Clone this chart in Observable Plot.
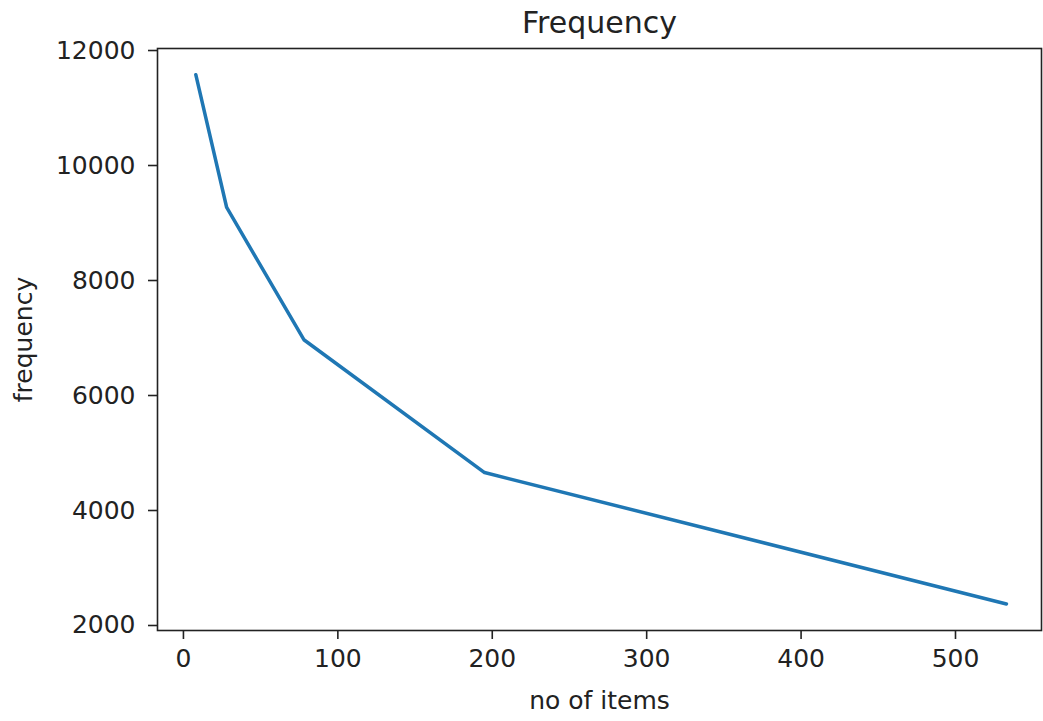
<!DOCTYPE html>
<html>
<head>
<meta charset="utf-8">
<script src="https://cdn.jsdelivr.net/npm/d3@7"></script>
<script src="https://cdn.jsdelivr.net/npm/@observablehq/plot@0.6"></script>
<style>
  html, body { margin: 0; padding: 0; background: #fff; }
  #chart svg { display: block; }
</style>
</head>
<body>
<div id="chart"></div>
<script>
// Data
const items = [8, 28, 78, 195, 533];
const frequency = [11580, 9270, 6970, 4660, 2375];
const xTicks = [0, 100, 200, 300, 400, 500];
const yTicks = [2000, 4000, 6000, 8000, 10000, 12000];
const titleText = "Frequency";
const xLabel = "no of items";
const yLabel = "frequency";

const data = items.map((x, i) => ({x, y: frequency[i]}));

const chart = Plot.plot({
  width: 1043,
  height: 721,
  marginLeft: 157,
  marginRight: 2,
  marginTop: 48,
  marginBottom: 91,
  style: {fontFamily: "DejaVu Sans", fontSize: "25px", color: "#222", background: "#fff"},
  x: {domain: [-16.8, 555.7]},
  y: {domain: [1913, 12035]},
  marks: [
    Plot.frame({stroke: "#222", strokeWidth: 1.6}),
    Plot.axisX({ticks: xTicks, tickSize: 9, tickPadding: 10, strokeWidth: 1.6,
      tickFormat: d => String(d), label: xLabel, labelAnchor: "center", labelArrow: "none", labelOffset: 78}),
    Plot.axisY({ticks: yTicks, tickSize: 9, tickPadding: 13, strokeWidth: 1.6,
      tickFormat: d => String(d), label: yLabel, labelAnchor: "center", labelArrow: "none", labelOffset: 143}),
    Plot.line(data, {x: "x", y: "y", stroke: "#1f77b4", strokeWidth: 3.5}),
    Plot.text([titleText], {frameAnchor: "top", dy: -37, fontSize: 30, fill: "#222"})
  ]
});
document.getElementById("chart").appendChild(chart);
</script>
</body>
</html>
